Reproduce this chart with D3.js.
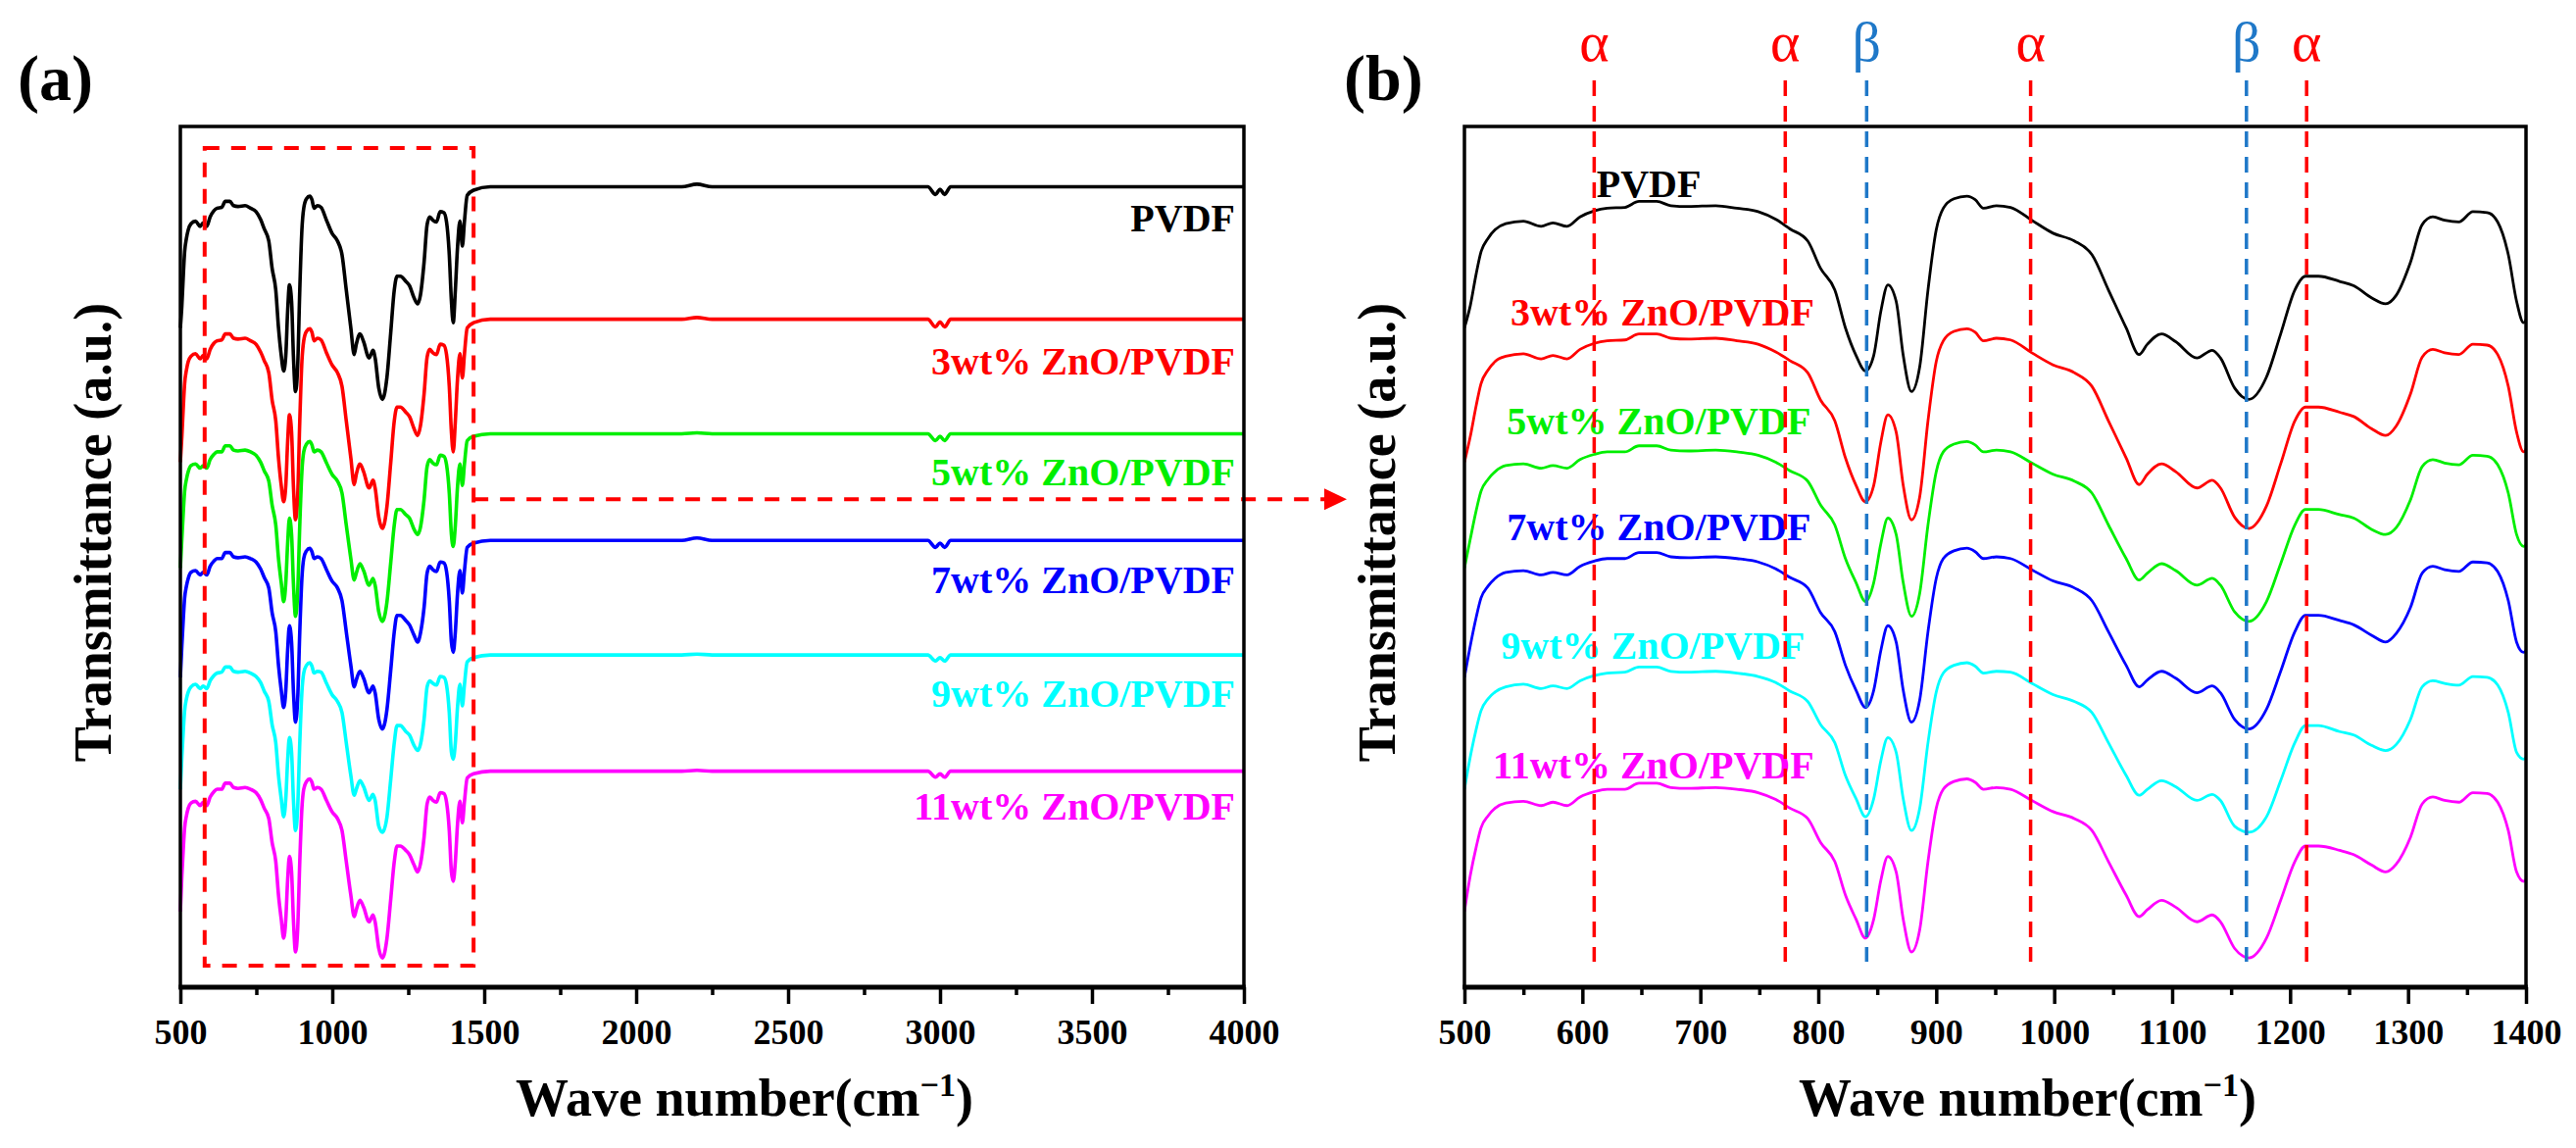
<!DOCTYPE html>
<html>
<head>
<meta charset="utf-8">
<script src="https://cdn.jsdelivr.net/npm/d3@7"></script>
<style>
  body { margin: 0; background: #fff; }
  svg text { font-family: "Liberation Serif", "Times New Roman", serif; }
</style>
</head>
<body>
<div id="chart"></div>
<script>

// wave numbers shared by all six spectra (cm-1)
var waveNumbers = [500,505,510,514,520,526,535,550,565,575,
  587,598,610,621,636,648,663,675,690,713,
  731,749,764,776,791,802,814,823,832,840,
  847,853,859,866,872,879,886,893,900,906,
  915,926,933,940,951,963,981,999,1017,1032,
  1046,1061,1072,1079,1091,1103,1121,1134,1141,1153,
  1165,1180,1192,1204,1213,1224,1242,1254,1269,1281,
  1290,1302,1312,1321,1331,1343,1355,1367,1376,1385,
  1392,1398,1405,1412,1420,1428,1435,1444,1465,1520,
  2150,2200,2250,2960,2985,3000,3015,3035,4000];

// transmittance (a.u., stacked)
var pvdf = [76.6,79.2,82.9,85.4,87.0,88.0,88.7,89.0,88.4,88.8,
  88.4,89.5,90.2,90.5,90.6,91.3,91.3,90.8,90.7,90.8,
  90.5,90.1,89.2,88.1,86.7,83.5,81.0,76.6,73.4,71.6,
  73.4,78.5,81.6,79.7,73.4,69.2,72.1,81.0,88.0,90.5,
  91.6,91.9,91.5,90.5,90.8,90.6,89.1,87.6,86.7,85.1,
  81.0,76.6,73.5,74.7,75.9,75.0,73.1,74.0,73.1,69.6,
  68.3,70.9,75.9,81.0,82.6,82.6,82.0,81.5,80.1,79.4,
  80.4,84.2,88.6,89.5,89.1,88.9,90.1,90.0,88.9,85.1,
  79.7,77.2,81.0,85.9,89.0,86.1,89.0,92.0,92.6,93.0,
  93.0,93.3,93.0,93.0,92.1,92.7,92.1,93.0,93.0];

var zno3 = [61.0,64.0,67.6,70.1,71.7,72.7,73.3,73.6,73.0,73.4,
  73.0,74.1,74.8,75.1,75.2,75.9,75.9,75.4,75.3,75.4,
  75.1,74.7,73.8,72.8,71.4,68.2,65.8,61.5,58.3,56.4,
  58.3,63.3,66.5,64.5,58.3,54.3,57.0,65.8,72.7,75.1,
  76.2,76.5,76.1,75.1,75.4,75.2,73.7,72.3,71.4,69.8,
  65.8,61.5,58.4,59.6,60.8,59.9,58.0,58.9,58.0,54.6,
  53.3,55.9,60.8,65.8,67.4,67.4,66.8,66.3,64.9,64.1,
  65.2,68.9,73.2,74.1,73.7,73.5,74.7,74.6,73.5,69.8,
  64.5,62.2,65.8,70.6,73.6,70.8,73.6,76.6,77.2,77.6,
  77.6,77.8,77.6,77.6,76.7,77.3,76.7,77.6,77.6];

var zno5 = [48.7,52.1,55.4,57.6,59.0,59.9,60.6,60.8,60.3,60.6,
  60.3,61.3,61.9,62.2,62.2,62.9,62.9,62.4,62.3,62.4,
  62.2,61.8,61.0,60.0,58.8,56.0,53.7,49.8,47.0,44.8,
  47.0,51.5,54.5,52.6,47.0,43.1,45.8,53.7,59.9,62.2,
  63.1,63.4,63.0,62.2,62.4,62.2,60.9,59.6,58.8,57.4,
  53.7,49.8,47.3,48.1,49.2,48.4,46.7,47.5,46.7,43.6,
  42.5,44.8,49.2,53.7,55.5,55.5,54.9,54.5,53.2,52.6,
  53.4,56.6,60.5,61.3,60.9,60.7,61.8,61.7,60.7,57.4,
  52.6,51.2,53.7,58.1,60.8,58.3,60.8,63.5,64.0,64.3,
  64.3,64.4,64.3,64.3,63.5,64.0,63.5,64.3,64.3];

var zno7 = [36.0,39.7,43.0,45.2,46.6,47.5,48.2,48.4,47.9,48.2,
  47.9,48.9,49.5,49.8,49.8,50.5,50.5,50.0,49.9,50.0,
  49.8,49.4,48.6,47.6,46.4,43.5,41.3,37.4,34.5,32.5,
  34.5,39.1,42.0,40.1,34.5,30.8,33.4,41.3,47.5,49.8,
  50.7,51.0,50.6,49.8,50.0,49.8,48.5,47.2,46.4,44.9,
  41.3,37.4,34.9,35.7,36.7,35.9,34.2,35.0,34.2,31.1,
  30.0,32.3,36.7,41.3,43.2,43.2,42.6,42.1,40.9,40.1,
  41.1,44.1,48.1,48.9,48.5,48.3,49.4,49.3,48.3,44.9,
  40.1,38.9,41.3,45.7,48.4,45.8,48.4,51.1,51.6,51.9,
  51.9,52.2,51.9,51.9,51.1,51.6,51.1,51.9,51.9];

var zno9 = [23.0,26.8,30.0,32.1,33.5,34.3,34.9,35.2,34.7,35.0,
  34.7,35.6,36.2,36.5,36.6,37.2,37.2,36.7,36.6,36.7,
  36.5,36.1,35.4,34.4,33.2,30.5,28.4,24.6,21.9,19.8,
  21.9,26.3,29.0,27.3,21.9,18.2,20.8,28.4,34.3,36.5,
  37.4,37.7,37.3,36.5,36.7,36.6,35.3,34.0,33.2,31.9,
  28.4,24.6,22.3,23.0,24.0,23.3,21.7,22.4,21.7,18.7,
  18.0,19.8,24.0,28.4,30.4,30.4,29.7,29.3,28.1,27.5,
  28.2,31.1,34.9,35.6,35.3,35.1,36.1,36.0,35.1,31.9,
  27.3,26.5,28.4,32.5,35.2,32.7,35.2,37.8,38.3,38.6,
  38.6,38.7,38.6,38.6,37.9,38.3,37.9,38.6,38.6];

var zno11 = [8.8,13.0,16.3,18.5,19.9,20.8,21.4,21.6,21.1,21.5,
  21.1,22.1,22.7,23.0,23.0,23.7,23.7,23.2,23.1,23.2,
  23.0,22.6,21.8,20.8,19.6,16.8,14.6,10.7,7.9,5.7,
  7.9,12.4,15.2,13.4,7.9,4.1,6.7,14.6,20.8,23.0,
  23.9,24.2,23.8,23.0,23.2,23.0,21.7,20.4,19.6,18.2,
  14.6,10.7,8.2,9.0,10.1,9.3,7.6,8.4,7.6,4.5,
  3.4,5.7,10.1,14.6,16.4,16.4,15.9,15.4,14.2,13.4,
  14.3,17.4,21.3,22.1,21.7,21.5,22.6,22.5,21.5,18.2,
  13.4,12.3,14.6,18.9,21.6,19.1,21.6,24.3,24.8,25.1,
  25.1,25.2,25.1,25.1,24.4,24.8,24.4,25.1,25.1];

var seriesNames = ["PVDF", "3wt% ZnO/PVDF", "5wt% ZnO/PVDF", "7wt% ZnO/PVDF", "9wt% ZnO/PVDF", "11wt% ZnO/PVDF"];
var seriesColors = ["#000000", "#ff0000", "#00ee00", "#0000ff", "#00ffff", "#ff00ff"];
var seriesValues = [pvdf, zno3, zno5, zno7, zno9, zno11];

// axis ticks
var majorTicksA = [500, 1000, 1500, 2000, 2500, 3000, 3500, 4000];
var minorTicksA = [750, 1250, 1750, 2250, 2750, 3250, 3750];
var majorTicksB = [500, 600, 700, 800, 900, 1000, 1100, 1200, 1300, 1400];
var minorTicksB = [550, 650, 750, 850, 950, 1050, 1150, 1250, 1350];

// band markers in panel (b)
var alphaBands = [610, 772, 980, 1214];
var betaBands = [841, 1163];

// zoomed region marked in panel (a): [x0, x1, y0, y1]
var zoomBox = [580, 1465, 2.5, 97.5];
var arrowLevel = 56.7;

// space for the chart
var svgWidth = 2628;
var svgHeight = 1171;
var plotTop = 129;
var plotBottom = 1007;

var svg = d3.select("#chart")
  .append("svg")
  .attr("width", svgWidth)
  .attr("height", svgHeight)
  .style("background", "#fff");

var xA = d3.scaleLinear().domain([500, 4000]).range([184, 1269]);
var xB = d3.scaleLinear().domain([500, 1400]).range([1494, 2577]);
var yScale = d3.scaleLinear().domain([0, 100]).range([plotBottom, plotTop]);

var seriesData = seriesValues.map(function (vals) {
  return vals.map(function (v, i) { return [waveNumbers[i], v]; });
});

// frame + ticks + tick labels for one panel
function drawFrame(xScale, major, minor) {
  var x0 = xScale.range()[0], x1 = xScale.range()[1];

  var minorAxis = svg.append("g")
    .attr("transform", `translate(0, ${plotBottom})`)
    .call(d3.axisBottom(xScale).tickValues(minor).tickSize(8).tickFormat(""));
  minorAxis.select(".domain").remove();
  minorAxis.selectAll("line").attr("stroke", "#000").attr("stroke-width", 3.5);

  var majorAxis = svg.append("g")
    .attr("transform", `translate(0, ${plotBottom})`)
    .call(d3.axisBottom(xScale).tickValues(major).tickSize(17).tickFormat(d3.format("d")));
  majorAxis.select(".domain").remove();
  majorAxis.selectAll("line").attr("stroke", "#000").attr("stroke-width", 3.5);
  majorAxis.selectAll("text")
    .attr("y", 58)
    .attr("dy", null)
    .attr("fill", "#000")
    .style("font-size", "36px")
    .style("font-weight", "bold");

  svg.append("rect")
    .attr("x", x0)
    .attr("y", plotTop)
    .attr("width", x1 - x0)
    .attr("height", plotBottom - plotTop)
    .attr("fill", "none")
    .attr("stroke", "#000")
    .attr("stroke-width", 3.5);

  svg.append("line")
    .attr("x1", x0 - 1.75).attr("x2", x1 + 1.75)
    .attr("y1", plotBottom).attr("y2", plotBottom)
    .attr("stroke", "#000")
    .attr("stroke-width", 5);
}

function drawTitles(xScale, yTitleX, panelLabel, panelLabelX) {
  var mid = (xScale.range()[0] + xScale.range()[1]) / 2;

  var xt = svg.append("text")
    .attr("x", mid + 33)
    .attr("y", 1138)
    .attr("text-anchor", "middle")
    .style("font-size", "54px")
    .style("font-weight", "bold")
    .text("Wave number(cm");
  xt.append("tspan").attr("dy", -20).style("font-size", "34px").text("\u22121");
  xt.append("tspan").attr("dy", 20).text(")");

  svg.append("text")
    .attr("transform", `translate(${yTitleX}, 543) rotate(-90)`)
    .attr("text-anchor", "middle")
    .style("font-size", "54px")
    .style("font-weight", "bold")
    .text("Transmittance (a.u.)");

  svg.append("text")
    .attr("x", panelLabelX)
    .attr("y", 102)
    .style("font-size", "66px")
    .style("font-weight", "bold")
    .text(panelLabel);
}

// ---------- panel (a) ----------
var lineA = d3.line()
  .x(d => xA(d[0]))
  .y(d => yScale(d[1]))
  .curve(d3.curveMonotoneX);

seriesData.forEach(function (data, i) {
  svg.append("path")
    .datum(data)
    .attr("d", lineA)
    .attr("fill", "none")
    .attr("stroke", seriesColors[i])
    .attr("stroke-width", 3.6)
    .attr("stroke-linejoin", "round");
});

// labels at right of panel (a)
var labelLevelsA = [87.8, 71.2, 58.3, 45.8, 32.6, 19.5];
seriesNames.forEach(function (name, i) {
  svg.append("text")
    .attr("x", xA(4000) - 9)
    .attr("y", yScale(labelLevelsA[i]))
    .attr("text-anchor", "end")
    .attr("fill", seriesColors[i])
    .style("font-size", "40px")
    .style("font-weight", "bold")
    .text(name);
});

// dashed box + arrow pointing to panel (b)
svg.append("rect")
  .attr("x", xA(zoomBox[0]))
  .attr("y", yScale(zoomBox[3]))
  .attr("width", xA(zoomBox[1]) - xA(zoomBox[0]))
  .attr("height", yScale(zoomBox[2]) - yScale(zoomBox[3]))
  .attr("fill", "none")
  .attr("stroke", "#ff0000")
  .attr("stroke-width", 4)
  .attr("stroke-dasharray", "15,12");

var arrowY = yScale(arrowLevel);
var arrowTip = xB.range()[0] - 120;
svg.append("line")
  .attr("x1", xA(zoomBox[1])).attr("x2", arrowTip - 22)
  .attr("y1", arrowY).attr("y2", arrowY)
  .attr("stroke", "#ff0000")
  .attr("stroke-width", 4)
  .attr("stroke-dasharray", "15,12");
svg.append("path")
  .attr("d", `M${arrowTip - 23},${arrowY - 11}L${arrowTip},${arrowY}L${arrowTip - 23},${arrowY + 11}Z`)
  .attr("fill", "#ff0000");

drawFrame(xA, majorTicksA, minorTicksA);
drawTitles(xA, 113, "(a)", 18);

// ---------- panel (b) ----------
svg.append("clipPath")
  .attr("id", "clipB")
  .append("rect")
  .attr("x", xB.range()[0])
  .attr("y", plotTop)
  .attr("width", xB.range()[1] - xB.range()[0])
  .attr("height", plotBottom - plotTop);

var lineB = d3.line()
  .x(d => xB(d[0]))
  .y(d => yScale(d[1]))
  .curve(d3.curveMonotoneX);

var curvesB = svg.append("g").attr("clip-path", "url(#clipB)");
seriesData.forEach(function (data, i) {
  curvesB.append("path")
    .datum(data.filter(d => d[0] <= 1405))
    .attr("d", lineB)
    .attr("fill", "none")
    .attr("stroke", seriesColors[i])
    .attr("stroke-width", 2.8)
    .attr("stroke-linejoin", "round");
});

// labels inside panel (b): [wave number, level]
var labelSpotsB = [[612, 91.8], [539, 76.9], [536, 64.2], [536, 51.9], [531, 38.2], [524, 24.3]];
seriesNames.forEach(function (name, i) {
  svg.append("text")
    .attr("x", xB(labelSpotsB[i][0]))
    .attr("y", yScale(labelSpotsB[i][1]))
    .attr("fill", seriesColors[i])
    .style("font-size", "40px")
    .style("font-weight", "bold")
    .text(name);
});

// band lines and greek letters
function drawBand(wn, color, letter) {
  svg.append("line")
    .attr("x1", xB(wn)).attr("x2", xB(wn))
    .attr("y1", 82).attr("y2", 981)
    .attr("stroke", color)
    .attr("stroke-width", 3.5)
    .attr("stroke-dasharray", "16,10");
  svg.append("text")
    .attr("x", xB(wn))
    .attr("y", 62)
    .attr("text-anchor", "middle")
    .attr("fill", color)
    .style("font-size", "58px")
    .text(letter);
}
alphaBands.forEach(wn => drawBand(wn, "#ff0000", "\u03b1"));
betaBands.forEach(wn => drawBand(wn, "#1f78c8", "\u03b2"));

drawFrame(xB, majorTicksB, minorTicksB);
drawTitles(xB, 1423, "(b)", 1371);

</script>
</body>
</html>
